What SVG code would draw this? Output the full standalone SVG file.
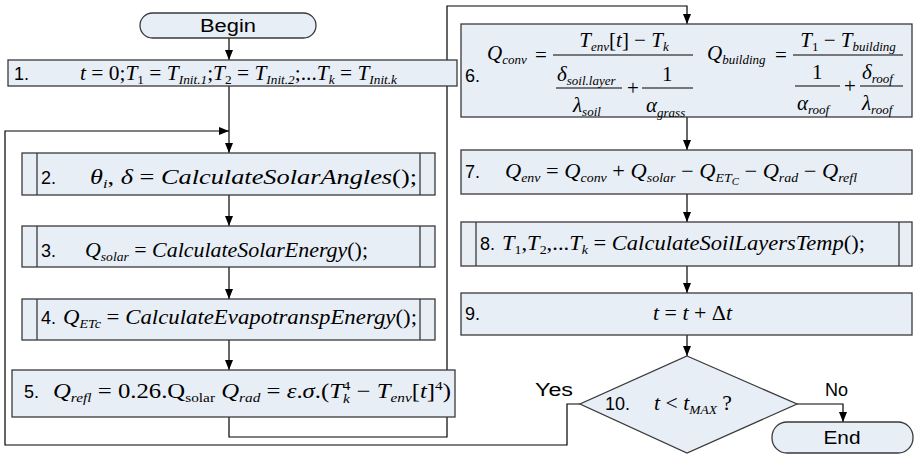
<svg xmlns="http://www.w3.org/2000/svg" width="914" height="454" viewBox="0 0 914 454">
<defs>
<style>
.bx{fill:#E8EEF6;stroke:#3a3a3a;stroke-width:1.3}
.ln{fill:none;stroke:#3a3a3a;stroke-width:1.3}
.c{fill:none;stroke:#000;stroke-width:1.2}
.l{font-family:"Liberation Sans",Arial,sans-serif;font-size:18px;fill:#000}
.m{font-family:"Liberation Serif","Times New Roman",serif;font-size:21px;font-style:italic;fill:#000}
.u{font-style:normal}
.s{font-size:13px}
.ss{font-size:10px}
.fb{stroke:#000;stroke-width:1.1}
</style>
<marker id="ar" viewBox="0 0 10 8" refX="10" refY="4" markerWidth="10" markerHeight="8" markerUnits="userSpaceOnUse" orient="auto">
<path d="M0,0 L10,4 L0,8 z" fill="#000"/>
</marker>
</defs>

<g id="connectors">
<path class="c" d="M229,38 V60" marker-end="url(#ar)"/>
<path class="c" d="M229,86 V153" marker-end="url(#ar)"/>
<path class="c" d="M580,404 H567 V445 H5 V131 H229" marker-end="url(#ar)"/>
<path class="c" d="M229,195 V226" marker-end="url(#ar)"/>
<path class="c" d="M229,267 V299" marker-end="url(#ar)"/>
<path class="c" d="M229,340 V370" marker-end="url(#ar)"/>
<path class="c" d="M229,417 V437 H447 V6 H687 V24" marker-end="url(#ar)"/>
<path class="c" d="M687,117 V150" marker-end="url(#ar)"/>
<path class="c" d="M687,194 V222" marker-end="url(#ar)"/>
<path class="c" d="M687,266 V293" marker-end="url(#ar)"/>
<path class="c" d="M687,335 V356" marker-end="url(#ar)"/>
<path class="c" d="M797,404 H843 V422" marker-end="url(#ar)"/>
</g>

<g id="begin">
<rect class="bx" x="140" y="13" width="176" height="25" rx="12.5"/>
<text class="l" x="228" y="32" text-anchor="middle" textLength="56" lengthAdjust="spacingAndGlyphs">Begin</text>
</g>

<g id="step1">
<rect class="bx" x="8" y="60" width="449" height="26"/>
<text class="l" x="14" y="80">1.</text>
<text class="m" x="80" y="80" textLength="317" lengthAdjust="spacingAndGlyphs">t<tspan class="u"> = 0;</tspan>T<tspan class="s u" dy="4">1</tspan><tspan class="u" dy="-4"> = </tspan>T<tspan class="s" dy="4">Init.1</tspan><tspan class="u" dy="-4">;</tspan>T<tspan class="s u" dy="4">2</tspan><tspan class="u" dy="-4"> = </tspan>T<tspan class="s" dy="4">Init.2</tspan><tspan class="u" dy="-4">;...</tspan>T<tspan class="s" dy="4">k</tspan><tspan class="u" dy="-4"> = </tspan>T<tspan class="s" dy="4">Init.k</tspan></text>
</g>

<g id="step2">
<rect class="bx" x="22" y="153" width="413" height="42"/>
<line class="ln" x1="37" y1="153" x2="37" y2="195"/>
<line class="ln" x1="420" y1="153" x2="420" y2="195"/>
<text class="l" x="41" y="184">2.</text>
<text class="m" x="90" y="184" textLength="327" lengthAdjust="spacingAndGlyphs">θ<tspan class="s" dy="4">i</tspan><tspan class="u" dy="-4">, </tspan>δ<tspan class="u"> = </tspan>CalculateSolarAngles<tspan class="u">();</tspan></text>
</g>

<g id="step3">
<rect class="bx" x="22" y="226" width="413" height="41"/>
<line class="ln" x1="37" y1="226" x2="37" y2="267"/>
<line class="ln" x1="420" y1="226" x2="420" y2="267"/>
<text class="l" x="41" y="257">3.</text>
<text class="m" x="85" y="257" textLength="283" lengthAdjust="spacingAndGlyphs">Q<tspan class="s" dy="4">solar</tspan><tspan class="u" dy="-4"> = </tspan>CalculateSolarEnergy<tspan class="u">();</tspan></text>
</g>

<g id="step4">
<rect class="bx" x="22" y="299" width="413" height="41"/>
<line class="ln" x1="37" y1="299" x2="37" y2="340"/>
<line class="ln" x1="420" y1="299" x2="420" y2="340"/>
<text class="l" x="41" y="324">4.</text>
<text class="m" x="63" y="324" textLength="354" lengthAdjust="spacingAndGlyphs">Q<tspan class="s" dy="4">ETc</tspan><tspan class="u" dy="-4"> = </tspan>CalculateEvapotranspEnergy<tspan class="u">();</tspan></text>
</g>

<g id="step5">
<rect class="bx" x="12" y="370" width="443" height="47"/>
<text class="l" x="24" y="398">5.</text>
<text class="m" x="53" y="398" textLength="398" lengthAdjust="spacingAndGlyphs">Q<tspan class="s" dy="4">refl</tspan><tspan class="u" dy="-4"> = 0.26.Q</tspan><tspan class="s u" dy="4">solar</tspan><tspan class="u" dy="-4">  </tspan>Q<tspan class="s" dy="4">rad</tspan><tspan class="u" dy="-4"> = </tspan>ε<tspan class="u">.</tspan>σ<tspan class="u">.(</tspan>T<tspan class="s" dy="5">k</tspan><tspan class="s u" dx="-6" dy="-13">4</tspan><tspan class="u" dy="8"> − </tspan>T<tspan class="s" dy="4">env</tspan><tspan class="u" dy="-4">[</tspan>t<tspan class="u">]</tspan><tspan class="s u" dy="-8">4</tspan><tspan class="u" dy="8">)</tspan></text>
</g>

<g id="step6">
<rect class="bx" x="461" y="24" width="451" height="93"/>
<text class="l" x="465" y="82">6.</text>
<text class="m" x="487" y="60">Q<tspan class="s" dy="4">conv</tspan></text>
<text class="m u" x="535" y="62">=</text>
<line class="fb" x1="553" y1="55" x2="693" y2="55"/>
<text class="m" x="624" y="47" text-anchor="middle">T<tspan class="s" dy="4">env</tspan><tspan class="u" dy="-4">[</tspan>t<tspan class="u">] − </tspan>T<tspan class="s" dy="4">k</tspan></text>
<line class="fb" x1="556" y1="88" x2="622" y2="88"/>
<text class="m" x="557" y="81">δ<tspan class="s" dy="4">soil.layer</tspan></text>
<text class="m" x="573" y="112">λ<tspan class="s" dy="4">soil</tspan></text>
<text class="m u" x="627" y="95">+</text>
<line class="fb" x1="642" y1="88" x2="693" y2="88"/>
<text class="m u" x="662" y="81">1</text>
<text class="m" x="646" y="112">α<tspan class="s" dy="5">grass</tspan></text>
<text class="m" x="707" y="60">Q<tspan class="s" dy="4">building</tspan></text>
<text class="m u" x="775" y="62">=</text>
<line class="fb" x1="793" y1="55" x2="903" y2="55"/>
<text class="m" x="848" y="47" text-anchor="middle">T<tspan class="s u" dy="4">1</tspan><tspan class="u" dy="-4"> − </tspan>T<tspan class="s" dy="4">building</tspan></text>
<line class="fb" x1="795" y1="86" x2="840" y2="86"/>
<text class="m u" x="812" y="79">1</text>
<text class="m" x="797" y="110">α<tspan class="s" dy="4">roof</tspan></text>
<text class="m u" x="844" y="93">+</text>
<line class="fb" x1="860" y1="86" x2="903" y2="86"/>
<text class="m" x="862" y="79">δ<tspan class="s" dy="4">roof</tspan></text>
<text class="m" x="862" y="110">λ<tspan class="s" dy="4">roof</tspan></text>
</g>

<g id="step7">
<rect class="bx" x="461" y="150" width="451" height="44"/>
<text class="l" x="465" y="178">7.</text>
<text class="m" x="505" y="178" textLength="352" lengthAdjust="spacingAndGlyphs">Q<tspan class="s" dy="4">env</tspan><tspan class="u" dy="-4"> = </tspan>Q<tspan class="s" dy="4">conv</tspan><tspan class="u" dy="-4"> + </tspan>Q<tspan class="s" dy="4">solar</tspan><tspan class="u" dy="-4"> − </tspan>Q<tspan class="s" dy="4">ET</tspan><tspan class="ss" dy="3">C</tspan><tspan class="u" dy="-7"> − </tspan>Q<tspan class="s" dy="4">rad</tspan><tspan class="u" dy="-4"> − </tspan>Q<tspan class="s" dy="4">refl</tspan></text>
</g>

<g id="step8">
<rect class="bx" x="461" y="222" width="451" height="44"/>
<line class="ln" x1="476" y1="222" x2="476" y2="266"/>
<line class="ln" x1="899" y1="222" x2="899" y2="266"/>
<text class="l" x="480" y="250">8.</text>
<text class="m" x="502" y="250" textLength="363" lengthAdjust="spacingAndGlyphs">T<tspan class="s u" dy="4">1</tspan><tspan class="u" dy="-4">,</tspan>T<tspan class="s u" dy="4">2</tspan><tspan class="u" dy="-4">,...</tspan>T<tspan class="s" dy="4">k</tspan><tspan class="u" dy="-4"> = </tspan>CalculateSoilLayersTemp<tspan class="u">();</tspan></text>
</g>

<g id="step9">
<rect class="bx" x="461" y="293" width="451" height="42"/>
<text class="l" x="465" y="320">9.</text>
<text class="m" x="653" y="320" textLength="79" lengthAdjust="spacingAndGlyphs">t<tspan class="u"> = </tspan>t<tspan class="u"> + Δ</tspan>t</text>
</g>

<g id="step10">
<polygon class="bx" points="687,356 797,404 687,453 580,404"/>
<text class="l" x="605" y="410">10.</text>
<text class="m" x="654" y="410" textLength="78" lengthAdjust="spacingAndGlyphs">t<tspan class="u"> &lt; </tspan>t<tspan class="s" dy="4">MAX</tspan><tspan class="u" dy="-4"> ?</tspan></text>
<text class="l" x="535" y="396" textLength="38" lengthAdjust="spacingAndGlyphs">Yes</text>
<text class="l" x="825" y="396">No</text>
</g>

<g id="end">
<rect class="bx" x="772" y="422" width="141" height="31" rx="15"/>
<text class="l" x="842" y="444" text-anchor="middle" textLength="37" lengthAdjust="spacingAndGlyphs">End</text>
</g>
</svg>
